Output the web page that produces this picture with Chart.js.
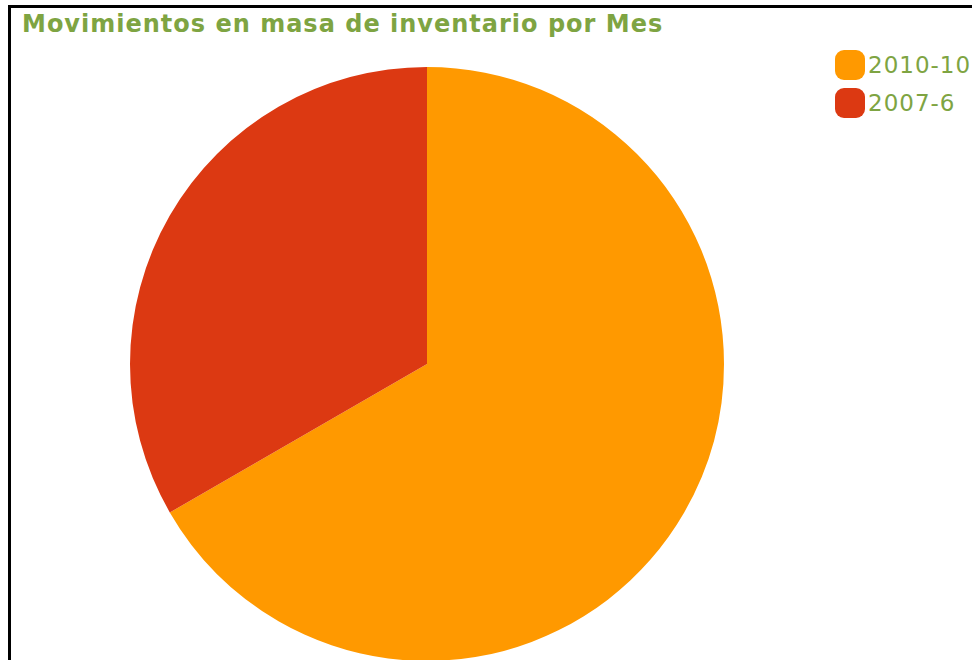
<!DOCTYPE html>
<html>
<head>
<meta charset="utf-8">
<script src="https://cdn.jsdelivr.net/npm/chart.js@4"></script>
<style>
  html, body { margin: 0; padding: 0; width: 972px; height: 660px; overflow: hidden; background: #fff; }
  #frame { position: absolute; left: 8px; top: 5px; width: 1000px; height: 700px; border-left: 3px solid #000; border-top: 3px solid #000; }
  #title { position: absolute; left: 22px; top: 10px; font-family: "DejaVu Sans", sans-serif; font-weight: bold; font-size: 24px; letter-spacing: 1px; color: #7ea442; white-space: nowrap; }
  #legend { position: absolute; left: 835px; top: 50px; font-family: "DejaVu Sans", sans-serif; font-size: 23px; letter-spacing: 1px; color: #7ea442; white-space: nowrap; }
  .item { display: flex; align-items: center; height: 30px; margin-bottom: 8px; }
  .box { width: 30px; height: 30px; border-radius: 9px; margin-right: 3px; }
  #wrap { position: absolute; left: 130px; top: 67px; width: 594px; height: 594px; }
</style>
</head>
<body>
<div id="frame"></div>
<div id="title">Movimientos en masa de inventario por Mes</div>
<div id="legend"></div>
<div id="wrap"><canvas id="myChart" width="594" height="594"></canvas></div>
<script>
// slice data
const labels = ['2010-10', '2007-6'];
const values = [2, 1];
const colors = ['#ff9900', '#dc3912'];

// legend next to the pie
function buildLegend() {
    const legend = document.getElementById('legend');
    labels.forEach((label, i) => {
        const item = document.createElement('div');
        item.className = 'item';
        const box = document.createElement('div');
        box.className = 'box';
        box.style.background = colors[i];
        const text = document.createElement('span');
        text.textContent = label;
        item.appendChild(box);
        item.appendChild(text);
        legend.appendChild(item);
    });
}

function createChart() {
    const ctx = document.getElementById('myChart').getContext('2d');
    new Chart(ctx, {
        type: 'pie',
        data: {
            labels: labels,
            datasets: [{
                data: values,
                backgroundColor: colors,
                borderWidth: 0
            }]
        },
        options: {
            responsive: false,
            animation: false,
            layout: { padding: 0 },
            plugins: {
                legend: { display: false },
                tooltip: { enabled: false }
            }
        }
    });
}

buildLegend();
createChart();
</script>
</body>
</html>
